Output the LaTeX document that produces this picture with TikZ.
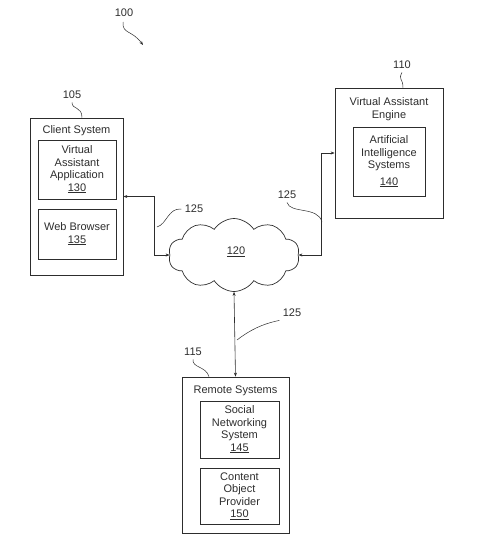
\documentclass[tikz,border=0pt]{standalone}
\usepackage{fontspec}
\setmainfont{Liberation Sans}
\usetikzlibrary{arrows.meta,shapes.symbols,positioning}
\definecolor{inkgray}{RGB}{45,45,45}

\begin{document}
\begin{tikzpicture}[x=1pt,y=-1pt,
      every node/.style={font=\fontsize{11}{12.5}\selectfont,text=inkgray},
      outerbox/.style={draw=inkgray,line width=0.7pt,inner sep=0pt},
      innerbox/.style={draw=inkgray,line width=0.6pt,align=center,inner sep=0pt},
      link/.style={{Stealth[length=4pt,width=3pt]}-{Stealth[length=4pt,width=3pt]},draw=inkgray,line width=0.6pt},
      leader/.style={draw=inkgray,line width=0.5pt}
    ]
    \useasboundingbox (0,0) rectangle (480,544);

    % client side
    \node[outerbox,minimum width=93pt,minimum height=157pt] (client) at (76.5,196.5) {};
    \node[below=4.5pt of client.north] (clientttl) {Client System};
    \node[innerbox,minimum width=78pt,minimum height=59pt] (vaapp) at (77,169.5)
          {Virtual\\Assistant\\Application\\\underline{130}};
    \node[innerbox,minimum width=78pt,minimum height=50pt] (browser) at (77,234)
          {Web Browser\\\underline{135}};

    % engine
    \node[outerbox,minimum width=108pt,minimum height=130pt] (engine) at (389,153) {};
    \node[below=6.5pt of engine.north,align=center] (enginettl) {Virtual Assistant\\Engine};
    \node[innerbox,minimum width=72pt,minimum height=69pt] (aisys) at (389,161.5)
          {Artificial\\Intelligence\\Systems\\[4pt]\underline{140}};

    % remote
    \node[outerbox,minimum width=107pt,minimum height=156pt] (remote) at (235.5,455) {};
    \node[below=5.5pt of remote.north] (remotettl) {Remote Systems};
    \node[innerbox,minimum width=79pt,minimum height=57pt] (social) at (239.5,429.5)
          {Social\\Networking\\System\\\underline{145}};
    \node[innerbox,minimum width=79pt,minimum height=56pt] (content) at (239.5,496)
          {Content\\Object\\Provider\\\underline{150}};

    % network
    \node[cloud,draw=inkgray,line width=0.7pt,cloud puffs=10,cloud puff arc=115,
          aspect=2,minimum width=131pt,minimum height=73pt,inner sep=0pt] (net) at (234,255) {};
    \node at (236,252) (netlbl) {\underline{120}};

    \draw[link] (client.east) -- ++(31,0) |- (net.west);
    \draw[link] (engine.west) -- ++(-13,0) |- (net.east);
    \draw[link] (remote.north) -- (net.south);

    % reference numerals
    \node (n100) at (124,13) {100};
    \node (n105) at (72,95) {105};
    \node (n110) at (402,65) {110};
    \node (n115) at (193,352) {115};
    \node (n125a) at (194,209) {125};
    \node (n125b) at (287,195) {125};
    \node (n125c) at (292,313) {125};

    \draw[leader,-{Stealth[length=4pt,width=3pt]}] (123,22) .. controls (122,34) and (132,30) .. (143,45);
    \draw[leader] (n105.south) .. controls (72,110) and (82,106) .. (client.north -| 82,0);
    \draw[leader] (n110.south) .. controls (398,80) and (403,78) .. (engine.north -| 403,0);
    \draw[leader] (n115.south) .. controls (192,368) and (206,366) .. (remote.north -| 209,0);
    \draw[leader] (n125a.west) .. controls (168,208) and (167,224) .. (157,227);
    \draw[leader] (n125b.south) .. controls (290,214) and (318,206) .. (322,222);
    \draw[leader] (n125c.south west) .. controls (262,324) and (250,330) .. (237,340);
\end{tikzpicture}
\end{document}
